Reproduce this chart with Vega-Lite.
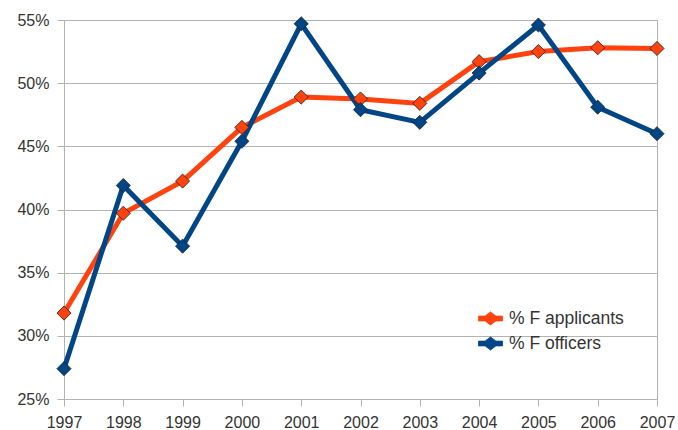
{
  "$schema": "https://vega.github.io/schema/vega-lite/v6.json",
  "width": 593,
  "height": 379,
  "autosize": "none",
  "padding": {"left": 64, "top": 20, "right": 21, "bottom": 31},
  "background": "white",
  "config": {
    "view": {"stroke": "#b3b3b3", "strokeWidth": 1},
    "font": "Liberation Sans",
    "axis": {
      "labelFont": "Liberation Sans",
      "labelFontSize": 16,
      "labelColor": "#333333",
      "domainColor": "#b3b3b3",
      "tickColor": "#b3b3b3",
      "gridColor": "#b3b3b3",
      "tickSize": 7,
      "title": null
    }
  },
  "data": {
    "values": [
      {"year": 1997, "series": "% F applicants", "value": 31.8},
      {"year": 1998, "series": "% F applicants", "value": 39.7},
      {"year": 1999, "series": "% F applicants", "value": 42.25},
      {"year": 2000, "series": "% F applicants", "value": 46.5},
      {"year": 2001, "series": "% F applicants", "value": 48.9},
      {"year": 2002, "series": "% F applicants", "value": 48.75},
      {"year": 2003, "series": "% F applicants", "value": 48.4},
      {"year": 2004, "series": "% F applicants", "value": 51.7},
      {"year": 2005, "series": "% F applicants", "value": 52.5},
      {"year": 2006, "series": "% F applicants", "value": 52.8},
      {"year": 2007, "series": "% F applicants", "value": 52.75},
      {"year": 1997, "series": "% F officers", "value": 27.4},
      {"year": 1998, "series": "% F officers", "value": 41.9},
      {"year": 1999, "series": "% F officers", "value": 37.1},
      {"year": 2000, "series": "% F officers", "value": 45.4},
      {"year": 2001, "series": "% F officers", "value": 54.7},
      {"year": 2002, "series": "% F officers", "value": 47.9},
      {"year": 2003, "series": "% F officers", "value": 46.9},
      {"year": 2004, "series": "% F officers", "value": 50.8},
      {"year": 2005, "series": "% F officers", "value": 54.6},
      {"year": 2006, "series": "% F officers", "value": 48.1},
      {"year": 2007, "series": "% F officers", "value": 46.0}
    ]
  },
  "mark": {
    "type": "line",
    "strokeWidth": 5,
    "point": {
      "shape": "diamond",
      "size": 200,
      "filled": true,
      "stroke": "#222222",
      "strokeWidth": 0.8
    }
  },
  "encoding": {
    "x": {
      "field": "year",
      "type": "quantitative",
      "scale": {"domain": [1997, 2007], "nice": false, "zero": false},
      "axis": {
        "values": [1997, 1998, 1999, 2000, 2001, 2002, 2003, 2004, 2005, 2006, 2007],
        "format": "d",
        "grid": false,
        "labelPadding": 8,
        "labelOverlap": false,
        "labelFlush": false
      }
    },
    "y": {
      "field": "value",
      "type": "quantitative",
      "scale": {"domain": [25, 55], "nice": false, "zero": false},
      "axis": {
        "values": [25, 30, 35, 40, 45, 50, 55],
        "labelExpr": "datum.value + '%'",
        "grid": true,
        "labelPadding": 8
      }
    },
    "color": {
      "field": "series",
      "type": "nominal",
      "scale": {
        "domain": ["% F applicants", "% F officers"],
        "range": ["#FF420E", "#004586"]
      },
      "legend": {
        "title": null,
        "orient": "none",
        "legendX": 414,
        "legendY": 286,
        "symbolType": "M-1,-0.2L-0.45,-0.2L0,-0.55L0.45,-0.2L1,-0.2L1,0.2L0.45,0.2L0,0.55L-0.45,0.2L-1,0.2Z",
        "symbolSize": 576,
        "symbolStrokeColor": "#222222",
        "symbolStrokeWidth": 0.8,
        "labelFont": "Liberation Sans",
        "labelFontSize": 17.5,
        "labelColor": "#333333",
        "rowPadding": 4,
        "labelOffset": 6
      }
    }
  }
}
